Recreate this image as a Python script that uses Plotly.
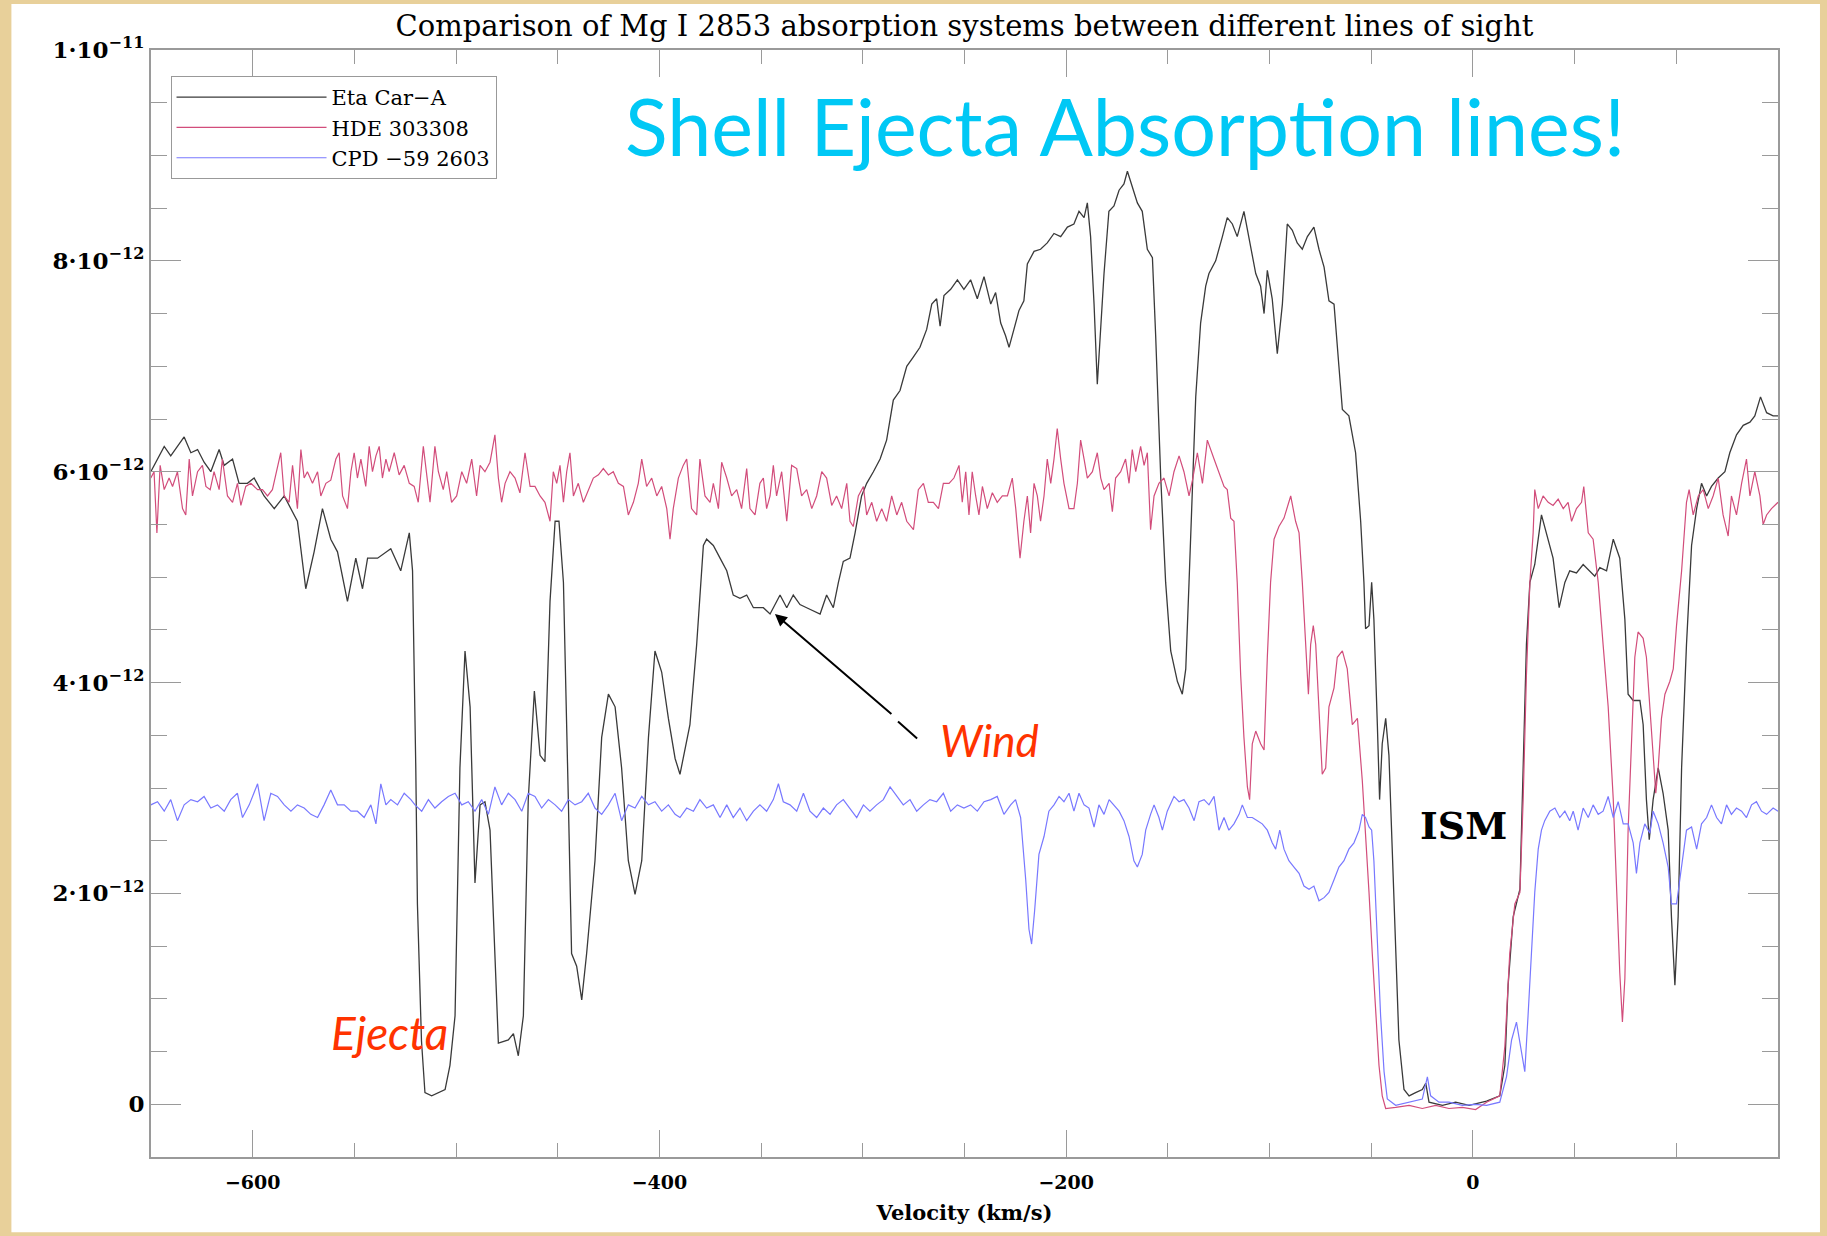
import plotly.graph_objects as go

# ---------------- data (velocity km/s, flux in units of 1e-12) ----------------
FLUX_UNIT = 1e-12

velocity_ticks = [-600, -400, -200, 0]
velocity_tick_labels = ["\u2212600", "\u2212400", "\u2212200", "0"]
flux_ticks = [0, 2e-12, 4e-12, 6e-12, 8e-12, 1e-11]
flux_tick_labels = ["0", "2\u00b710<sup>\u221212</sup>", "4\u00b710<sup>\u221212</sup>",
                    "6\u00b710<sup>\u221212</sup>", "8\u00b710<sup>\u221212</sup>",
                    "1\u00b710<sup>\u221211</sup>"]
series_names = ["Eta Car\u2212A", "HDE 303308", "CPD \u221259 2603"]

eta_car_a = [
    (-650.1, 6.00), (-643.5, 6.24), (-640.3, 6.15), (-633.7, 6.33), (-630.4, 6.18), (-627.1, 6.21),
    (-623.9, 6.09), (-620.6, 6.00), (-616.5, 6.21), (-614.0, 6.06), (-609.9, 6.12), (-606.7, 5.89),
    (-602.6, 5.89), (-599.3, 5.94), (-594.4, 5.77), (-589.4, 5.65), (-584.5, 5.77), (-581.2, 5.65),
    (-578.0, 5.53), (-573.9, 4.89), (-569.8, 5.24), (-565.7, 5.65), (-561.6, 5.36), (-558.3, 5.24),
    (-553.4, 4.77), (-549.3, 5.18), (-546.0, 4.89), (-543.5, 5.18), (-538.6, 5.18), (-532.1, 5.27),
    (-527.2, 5.06), (-523.0, 5.42), (-521.4, 5.06), (-519.8, 3.19), (-519.0, 1.90), (-517.0, 0.60),
    (-515.3, 0.11), (-512.0, 0.08), (-508.7, 0.11), (-505.4, 0.14), (-503.0, 0.37), (-500.5, 0.84),
    (-498.1, 3.19), (-495.6, 4.30), (-493.1, 3.77), (-490.7, 2.10), (-488.2, 2.84), (-485.8, 2.87),
    (-483.3, 2.60), (-480.9, 1.43), (-479.2, 0.58), (-474.3, 0.61), (-471.8, 0.67), (-469.4, 0.46),
    (-466.9, 0.84), (-464.5, 2.89), (-461.5, 3.92), (-458.7, 3.31), (-456.3, 3.25), (-453.8, 4.77),
    (-451.3, 5.53), (-449.4, 5.53), (-447.2, 4.95), (-444.8, 2.89), (-443.2, 1.43), (-440.7, 1.31),
    (-438.2, 0.99), (-435.8, 1.43), (-431.7, 2.31), (-428.4, 3.48), (-425.1, 3.89), (-421.8, 3.77),
    (-418.6, 3.19), (-415.3, 2.31), (-412.0, 1.99), (-408.7, 2.31), (-405.4, 3.48), (-402.2, 4.30),
    (-398.9, 4.10), (-395.6, 3.66), (-392.3, 3.28), (-389.9, 3.13), (-385.0, 3.60), (-381.7, 4.36),
    (-378.4, 5.30), (-376.8, 5.36), (-373.5, 5.30), (-370.2, 5.18), (-366.9, 5.06), (-363.7, 4.83),
    (-360.4, 4.80), (-357.1, 4.83), (-353.8, 4.71), (-348.9, 4.71), (-345.6, 4.65), (-340.7, 4.83),
    (-337.4, 4.71), (-334.2, 4.83), (-330.9, 4.74), (-327.6, 4.71), (-324.3, 4.68), (-321.0, 4.65),
    (-317.8, 4.83), (-314.5, 4.71), (-312.0, 4.95), (-309.6, 5.15), (-306.3, 5.18), (-303.8, 5.42),
    (-300.6, 5.77), (-298.1, 5.89), (-294.8, 6.00), (-291.5, 6.12), (-288.3, 6.30), (-285.0, 6.68),
    (-281.7, 6.77), (-278.4, 7.00), (-275.1, 7.09), (-271.9, 7.18), (-268.6, 7.35), (-266.1, 7.59),
    (-263.7, 7.64), (-262.0, 7.38), (-260.1, 7.67), (-256.8, 7.73), (-253.5, 7.82), (-250.3, 7.73),
    (-247.0, 7.82), (-243.7, 7.64), (-240.4, 7.85), (-237.1, 7.59), (-234.7, 7.70), (-232.2, 7.41),
    (-229.8, 7.29), (-228.1, 7.18), (-225.7, 7.35), (-223.2, 7.53), (-220.8, 7.62), (-219.1, 7.97),
    (-215.8, 8.09), (-212.6, 8.11), (-209.3, 8.17), (-206.0, 8.26), (-202.7, 8.23), (-199.4, 8.32),
    (-196.2, 8.35), (-193.7, 8.47), (-191.2, 8.41), (-189.6, 8.55), (-188.0, 8.23), (-186.3, 7.59),
    (-184.7, 6.83), (-183.0, 7.41), (-181.4, 7.88), (-179.0, 8.47), (-176.5, 8.52), (-174.0, 8.67),
    (-171.6, 8.73), (-169.9, 8.85), (-167.5, 8.70), (-165.0, 8.55), (-162.6, 8.47), (-160.1, 8.11),
    (-157.6, 8.03), (-156.0, 7.29), (-153.5, 5.94), (-151.1, 4.95), (-148.6, 4.30), (-145.3, 4.01),
    (-142.9, 3.89), (-141.2, 4.13), (-139.6, 4.95), (-137.9, 5.94), (-136.3, 6.71), (-133.9, 7.41),
    (-131.4, 7.76), (-129.8, 7.88), (-126.5, 8.00), (-123.2, 8.23), (-120.8, 8.41), (-118.3, 8.35),
    (-115.9, 8.23), (-112.6, 8.47), (-110.1, 8.23), (-106.8, 7.88), (-104.4, 7.76), (-102.7, 7.50),
    (-101.1, 7.91), (-98.7, 7.64), (-96.2, 7.12), (-93.7, 7.59), (-91.3, 8.35), (-88.8, 8.29),
    (-86.4, 8.17), (-83.9, 8.11), (-81.4, 8.23), (-78.2, 8.32), (-75.7, 8.11), (-73.2, 7.94),
    (-70.8, 7.62), (-68.3, 7.59), (-65.9, 7.00), (-64.2, 6.59), (-61.0, 6.53), (-57.7, 6.18),
    (-55.2, 5.53), (-53.6, 4.95), (-52.8, 4.51), (-51.1, 4.54), (-49.8, 4.95), (-48.7, 4.60),
    (-47.0, 3.60), (-45.9, 2.89), (-44.6, 3.42), (-42.9, 3.66), (-41.3, 3.31), (-39.6, 2.31),
    (-38.0, 1.43), (-36.4, 0.61), (-33.9, 0.14), (-31.4, 0.08), (-28.2, 0.11), (-24.9, 0.14),
    (-23.2, 0.20), (-21.6, 0.02), (-15.0, -0.01), (-8.5, 0.02), (-1.9, -0.01), (6.7, 0.03),
    (13.2, 0.08), (15.7, 0.37), (17.3, 1.13), (19.8, 1.78), (23.1, 2.04), (24.7, 3.19),
    (26.3, 4.36), (28.0, 4.95), (30.4, 5.12), (33.7, 5.59), (37.0, 5.36), (39.4, 5.18),
    (42.4, 4.71), (45.2, 4.95), (47.6, 5.06), (50.9, 5.04), (54.2, 5.12), (57.5, 5.06),
    (59.9, 5.01), (62.4, 5.09), (65.7, 5.06), (69.0, 5.36), (72.2, 5.18), (74.7, 4.60),
    (76.3, 3.89), (78.8, 3.83), (82.1, 3.83), (83.7, 3.60), (85.3, 2.89), (86.7, 2.51),
    (88.6, 2.89), (91.1, 3.19), (93.5, 2.95), (96.0, 2.60), (97.6, 1.78), (99.3, 1.13),
    (100.9, 1.78), (102.6, 3.19), (105.0, 4.36), (107.5, 5.30), (110.0, 5.65), (112.4, 5.89),
    (114.9, 5.77), (117.3, 5.86), (120.6, 5.94), (123.9, 6.00), (126.3, 6.18), (129.6, 6.35),
    (132.9, 6.44), (136.2, 6.47), (138.6, 6.53), (141.4, 6.71), (144.4, 6.56), (147.6, 6.53),
    (150.0, 6.53),
]

hde_303308 = [
    (-650.1, 5.94), (-648.5, 6.00), (-647.1, 5.42), (-645.5, 6.06), (-643.5, 5.83), (-641.1, 5.94),
    (-639.4, 5.86), (-637.0, 6.00), (-634.5, 5.65), (-632.9, 5.59), (-631.2, 6.12), (-629.6, 5.77),
    (-627.1, 6.00), (-624.7, 6.06), (-623.0, 5.86), (-620.9, 5.83), (-619.0, 6.00), (-616.5, 5.83),
    (-614.9, 6.12), (-612.4, 5.77), (-609.9, 5.71), (-607.5, 5.89), (-605.8, 5.68), (-603.4, 5.86),
    (-600.9, 5.89), (-597.6, 5.83), (-595.2, 5.83), (-592.7, 5.77), (-590.3, 5.83), (-587.8, 6.06),
    (-586.2, 6.18), (-584.5, 5.77), (-582.1, 5.71), (-580.4, 6.06), (-578.0, 5.65), (-576.3, 6.21),
    (-574.7, 5.94), (-573.1, 6.00), (-570.6, 5.89), (-568.1, 6.00), (-566.5, 5.77), (-564.0, 5.89),
    (-561.6, 5.92), (-559.1, 6.12), (-557.5, 6.18), (-555.8, 5.77), (-553.4, 5.65), (-551.7, 6.00),
    (-550.1, 6.18), (-548.5, 5.94), (-546.8, 6.12), (-544.4, 5.86), (-542.7, 6.24), (-541.1, 6.00),
    (-539.4, 6.15), (-537.8, 6.24), (-536.2, 5.94), (-534.5, 6.12), (-532.9, 6.00), (-530.4, 6.18),
    (-528.0, 5.97), (-525.5, 6.06), (-523.0, 5.89), (-520.6, 5.86), (-518.6, 5.71), (-516.1, 6.24),
    (-514.5, 6.00), (-512.8, 5.71), (-510.4, 6.24), (-508.7, 6.00), (-506.3, 5.83), (-504.6, 6.00),
    (-502.2, 5.71), (-499.7, 5.77), (-497.2, 6.00), (-494.8, 5.89), (-492.3, 6.12), (-489.9, 5.77),
    (-488.2, 6.06), (-485.8, 6.00), (-483.3, 6.09), (-480.9, 6.35), (-479.2, 5.94), (-477.6, 5.71),
    (-475.9, 5.89), (-473.5, 6.00), (-471.0, 5.94), (-468.6, 5.80), (-466.1, 6.18), (-463.6, 5.86),
    (-461.2, 5.86), (-458.7, 5.77), (-456.3, 5.71), (-453.8, 5.53), (-452.2, 6.00), (-450.5, 5.89),
    (-448.9, 6.06), (-447.2, 5.71), (-445.6, 6.00), (-444.0, 6.18), (-442.3, 5.77), (-439.9, 5.89),
    (-437.4, 5.71), (-435.0, 5.83), (-432.5, 5.94), (-430.0, 5.97), (-427.6, 6.03), (-425.1, 5.97),
    (-422.7, 6.00), (-420.2, 5.89), (-417.7, 5.86), (-415.3, 5.59), (-412.8, 5.71), (-410.4, 5.89),
    (-408.7, 6.12), (-406.3, 5.86), (-403.8, 5.94), (-401.3, 5.77), (-398.9, 5.86), (-396.4, 5.65),
    (-394.8, 5.36), (-393.2, 5.65), (-390.7, 5.94), (-388.3, 6.06), (-386.6, 6.12), (-384.2, 5.65),
    (-381.7, 5.59), (-380.1, 6.12), (-377.6, 5.77), (-375.1, 5.71), (-373.5, 5.89), (-371.0, 5.65),
    (-369.4, 6.09), (-366.9, 5.94), (-364.5, 5.77), (-362.0, 5.83), (-359.6, 5.65), (-357.1, 6.03),
    (-355.5, 5.65), (-353.0, 5.59), (-350.6, 5.89), (-348.9, 5.94), (-347.3, 5.65), (-345.6, 5.77),
    (-344.0, 6.06), (-342.4, 5.77), (-339.9, 6.00), (-337.4, 5.53), (-335.0, 6.06), (-332.5, 6.03),
    (-330.1, 5.77), (-327.6, 5.83), (-325.1, 5.65), (-322.7, 5.77), (-320.2, 6.00), (-317.8, 5.94),
    (-315.3, 5.68), (-312.9, 5.77), (-310.4, 5.65), (-307.9, 5.89), (-306.3, 5.53), (-304.7, 5.48),
    (-302.2, 5.77), (-299.7, 5.86), (-298.1, 5.59), (-295.6, 5.71), (-293.2, 5.53), (-290.7, 5.65),
    (-288.3, 5.53), (-285.8, 5.77), (-283.3, 5.59), (-280.9, 5.71), (-278.4, 5.53), (-275.1, 5.45),
    (-272.7, 5.83), (-270.2, 5.89), (-267.8, 5.71), (-265.3, 5.71), (-262.8, 5.65), (-260.4, 5.89),
    (-257.6, 5.89), (-255.2, 5.94), (-252.7, 6.06), (-251.1, 5.71), (-249.4, 6.00), (-247.8, 5.59),
    (-246.2, 6.00), (-244.5, 5.77), (-242.9, 5.59), (-241.2, 5.86), (-238.8, 5.65), (-236.3, 5.80),
    (-233.9, 5.71), (-231.4, 5.77), (-228.9, 5.77), (-226.5, 5.94), (-224.8, 5.65), (-222.7, 5.18),
    (-220.8, 5.53), (-219.1, 5.77), (-217.5, 5.42), (-215.8, 5.89), (-214.2, 5.77), (-212.6, 5.53),
    (-210.9, 5.77), (-209.3, 6.12), (-207.6, 5.89), (-206.0, 6.12), (-204.4, 6.41), (-202.7, 6.12),
    (-201.1, 5.89), (-198.6, 5.65), (-196.2, 5.65), (-194.5, 5.89), (-192.9, 6.30), (-191.2, 6.12),
    (-189.6, 5.94), (-187.1, 6.00), (-184.7, 6.18), (-183.0, 5.94), (-181.4, 5.83), (-178.9, 5.89),
    (-177.3, 5.62), (-175.7, 5.94), (-173.2, 6.00), (-170.8, 6.12), (-169.1, 5.89), (-167.5, 6.21),
    (-165.8, 6.00), (-163.4, 6.24), (-161.7, 6.06), (-160.1, 6.18), (-158.5, 5.45), (-156.8, 5.77),
    (-154.4, 5.89), (-151.9, 5.94), (-149.4, 5.77), (-147.0, 6.00), (-144.5, 6.15), (-142.1, 6.00),
    (-139.6, 5.77), (-137.9, 5.92), (-135.5, 6.18), (-133.0, 5.89), (-130.6, 6.30), (-127.3, 6.12),
    (-124.9, 6.00), (-122.4, 5.86), (-120.8, 5.83), (-119.1, 5.56), (-117.5, 5.53), (-115.9, 4.95),
    (-114.2, 4.07), (-112.6, 3.48), (-110.9, 3.01), (-109.8, 2.89), (-108.5, 3.42), (-106.8, 3.54),
    (-104.4, 3.42), (-102.7, 3.36), (-101.1, 4.24), (-99.5, 4.95), (-97.8, 5.36), (-95.4, 5.48),
    (-92.9, 5.56), (-89.6, 5.77), (-87.2, 5.53), (-85.5, 5.42), (-83.9, 4.95), (-82.3, 4.36),
    (-80.9, 3.89), (-79.8, 4.36), (-78.5, 4.54), (-77.3, 4.36), (-75.7, 3.77), (-74.1, 3.13),
    (-72.4, 3.19), (-70.8, 3.77), (-68.3, 3.95), (-66.7, 4.24), (-64.2, 4.30), (-61.8, 4.13),
    (-59.3, 3.60), (-56.8, 3.66), (-54.4, 3.07), (-52.8, 2.60), (-51.1, 2.01), (-49.5, 1.43),
    (-47.8, 0.84), (-46.2, 0.37), (-44.6, 0.08), (-42.9, -0.04), (-38.0, -0.03), (-31.4, -0.01),
    (-24.9, -0.04), (-18.3, -0.01), (-11.8, -0.04), (-5.2, -0.03), (1.3, -0.05), (6.7, 0.02),
    (13.2, 0.08), (15.7, 0.55), (18.1, 1.43), (20.6, 1.90), (23.1, 2.01), (24.7, 2.89),
    (26.3, 4.07), (28.0, 4.95), (29.6, 5.42), (30.4, 5.83), (32.1, 5.65), (34.5, 5.77),
    (37.0, 5.71), (39.4, 5.68), (41.9, 5.74), (44.4, 5.65), (46.8, 5.71), (48.5, 5.53),
    (50.9, 5.65), (53.4, 5.71), (54.5, 5.86), (56.7, 5.42), (59.1, 5.36), (61.6, 4.95),
    (64.0, 4.36), (66.5, 3.77), (69.0, 2.89), (70.6, 2.01), (72.2, 1.25), (73.5, 0.78),
    (74.7, 1.19), (76.3, 2.60), (78.0, 3.48), (79.6, 4.24), (81.2, 4.48), (83.7, 4.42),
    (85.3, 4.24), (87.0, 3.77), (88.6, 3.25), (89.9, 2.95), (91.1, 3.19), (92.7, 3.66),
    (94.4, 3.89), (96.8, 4.01), (98.5, 4.13), (100.1, 4.54), (102.6, 5.06), (105.0, 5.71),
    (106.3, 5.83), (108.3, 5.59), (110.8, 5.77), (113.2, 5.83), (115.7, 5.65), (118.1, 5.77),
    (120.6, 5.94), (123.0, 5.59), (125.5, 5.39), (127.1, 5.77), (129.6, 5.59), (132.1, 5.89),
    (134.5, 6.12), (136.2, 5.77), (138.6, 6.00), (141.1, 5.77), (142.7, 5.50), (144.4, 5.59),
    (146.8, 5.65), (150.0, 5.71),
]

cpd_59_2603 = [
    (-650.1, 2.84), (-646.8, 2.87), (-643.5, 2.78), (-640.3, 2.89), (-637.0, 2.69), (-633.7, 2.84),
    (-630.4, 2.89), (-627.1, 2.87), (-623.9, 2.92), (-620.6, 2.81), (-617.3, 2.84), (-614.0, 2.78),
    (-610.8, 2.89), (-607.5, 2.95), (-605.0, 2.72), (-601.7, 2.84), (-597.6, 3.04), (-594.4, 2.69),
    (-591.1, 2.95), (-587.8, 2.92), (-584.5, 2.84), (-581.2, 2.78), (-578.0, 2.84), (-574.7, 2.81),
    (-571.4, 2.75), (-568.1, 2.72), (-564.9, 2.84), (-561.6, 2.98), (-558.3, 2.84), (-555.0, 2.84),
    (-551.7, 2.78), (-548.5, 2.78), (-545.2, 2.72), (-541.9, 2.84), (-539.4, 2.66), (-537.0, 3.04),
    (-534.5, 2.84), (-532.1, 2.89), (-528.8, 2.84), (-525.5, 2.95), (-522.2, 2.89), (-520.2, 2.84),
    (-516.9, 2.78), (-513.6, 2.89), (-510.4, 2.81), (-507.1, 2.87), (-503.8, 2.92), (-500.5, 2.95),
    (-497.2, 2.84), (-494.0, 2.87), (-490.7, 2.78), (-487.4, 2.89), (-484.1, 2.75), (-480.9, 3.01),
    (-477.6, 2.84), (-474.3, 2.95), (-471.0, 2.89), (-467.7, 2.78), (-464.5, 2.95), (-461.2, 2.92),
    (-457.9, 2.81), (-454.6, 2.89), (-451.3, 2.84), (-448.1, 2.78), (-444.8, 2.89), (-441.5, 2.84),
    (-438.2, 2.87), (-435.0, 2.95), (-431.7, 2.81), (-428.4, 2.75), (-425.1, 2.84), (-421.8, 2.95),
    (-418.6, 2.69), (-415.3, 2.84), (-412.0, 2.81), (-408.7, 2.92), (-405.4, 2.84), (-402.2, 2.87),
    (-398.9, 2.78), (-395.6, 2.84), (-392.3, 2.75), (-389.9, 2.72), (-386.6, 2.81), (-383.3, 2.78),
    (-380.1, 2.89), (-376.8, 2.81), (-373.5, 2.84), (-370.2, 2.72), (-366.9, 2.84), (-363.7, 2.72),
    (-360.4, 2.81), (-357.1, 2.69), (-353.8, 2.78), (-350.6, 2.84), (-347.3, 2.78), (-344.0, 2.89),
    (-341.5, 3.04), (-339.1, 2.87), (-335.8, 2.84), (-332.5, 2.78), (-329.2, 2.95), (-326.0, 2.78),
    (-322.7, 2.72), (-319.4, 2.81), (-316.1, 2.75), (-312.9, 2.84), (-309.6, 2.89), (-306.3, 2.81),
    (-303.0, 2.72), (-299.7, 2.84), (-296.5, 2.78), (-293.2, 2.84), (-289.9, 2.89), (-286.6, 3.01),
    (-283.3, 2.92), (-280.1, 2.84), (-276.8, 2.89), (-273.5, 2.78), (-270.2, 2.84), (-267.0, 2.89),
    (-263.7, 2.87), (-260.4, 2.95), (-256.8, 2.78), (-253.5, 2.84), (-250.3, 2.81), (-247.0, 2.84),
    (-243.7, 2.78), (-240.4, 2.87), (-237.1, 2.89), (-233.9, 2.92), (-230.6, 2.75), (-227.3, 2.84),
    (-224.9, 2.89), (-222.4, 2.72), (-219.9, 2.13), (-218.3, 1.66), (-217.0, 1.52), (-215.5, 1.84),
    (-213.4, 2.37), (-210.9, 2.54), (-208.5, 2.78), (-206.0, 2.84), (-203.5, 2.92), (-201.1, 2.87),
    (-198.6, 2.95), (-196.2, 2.78), (-193.7, 2.95), (-191.2, 2.84), (-188.8, 2.81), (-186.3, 2.63),
    (-183.9, 2.84), (-181.4, 2.75), (-178.9, 2.89), (-176.5, 2.84), (-174.0, 2.78), (-171.6, 2.69),
    (-169.1, 2.54), (-166.7, 2.31), (-165.0, 2.25), (-162.6, 2.37), (-160.9, 2.60), (-158.5, 2.75),
    (-156.8, 2.84), (-154.4, 2.72), (-152.7, 2.60), (-150.3, 2.78), (-147.0, 2.92), (-144.5, 2.87),
    (-142.1, 2.89), (-139.6, 2.81), (-137.1, 2.69), (-134.7, 2.87), (-132.2, 2.89), (-129.8, 2.84),
    (-127.3, 2.92), (-124.9, 2.60), (-122.4, 2.72), (-120.0, 2.60), (-117.5, 2.66), (-115.0, 2.75),
    (-113.4, 2.84), (-110.9, 2.72), (-108.5, 2.72), (-106.0, 2.69), (-103.6, 2.66), (-101.1, 2.60),
    (-98.7, 2.48), (-97.0, 2.42), (-95.0, 2.60), (-92.9, 2.42), (-90.5, 2.31), (-88.0, 2.25),
    (-85.5, 2.19), (-83.1, 2.07), (-80.6, 2.04), (-78.2, 2.07), (-75.7, 1.93), (-73.2, 1.96),
    (-70.8, 2.01), (-68.3, 2.13), (-65.9, 2.25), (-63.4, 2.31), (-61.0, 2.42), (-58.5, 2.48),
    (-56.0, 2.60), (-54.4, 2.75), (-52.8, 2.72), (-51.1, 2.63), (-49.8, 2.60), (-48.7, 2.31),
    (-47.0, 1.55), (-45.4, 0.84), (-43.7, 0.31), (-42.1, 0.05), (-38.0, -0.01), (-31.4, 0.02),
    (-24.9, 0.05), (-22.4, 0.26), (-20.8, 0.08), (-16.7, 0.02), (-11.8, 0.02), (-5.2, -0.01),
    (1.3, 0.00), (6.7, -0.01), (13.2, 0.02), (16.5, 0.26), (19.0, 0.61), (21.4, 0.78),
    (23.9, 0.49), (25.5, 0.31), (27.1, 0.84), (28.8, 1.43), (30.4, 2.01), (32.1, 2.42),
    (33.7, 2.60), (35.3, 2.69), (37.8, 2.78), (40.3, 2.81), (42.7, 2.72), (45.2, 2.78),
    (47.6, 2.69), (49.3, 2.78), (51.7, 2.60), (54.2, 2.81), (56.7, 2.72), (59.1, 2.84),
    (61.6, 2.75), (64.0, 2.78), (66.5, 2.92), (69.0, 2.72), (71.4, 2.87), (73.9, 2.66),
    (76.3, 2.66), (78.8, 2.48), (80.4, 2.19), (82.1, 2.48), (84.5, 2.66), (87.0, 2.57),
    (88.6, 2.78), (91.1, 2.66), (93.5, 2.48), (96.0, 2.25), (97.6, 1.90), (100.1, 1.90),
    (101.7, 2.13), (103.4, 2.42), (105.0, 2.60), (107.5, 2.63), (110.0, 2.42), (112.4, 2.66),
    (114.9, 2.72), (117.3, 2.84), (119.8, 2.72), (122.2, 2.66), (124.7, 2.84), (127.1, 2.75),
    (129.6, 2.81), (132.1, 2.78), (134.5, 2.72), (137.0, 2.84), (139.4, 2.87), (141.9, 2.78),
    (144.4, 2.75), (147.6, 2.81), (150.0, 2.78),
]

# ---------------- figure ----------------
series = [eta_car_a, hde_303308, cpd_59_2603]
colors = ["#3a3a3a", "#d24d7b", "#7878ff"]
widths = [1.3, 1.2, 1.2]

fig = go.Figure()
for name, data, col, w in zip(series_names, series, colors, widths):
    v = [p[0] for p in data]
    f = [p[1] * FLUX_UNIT for p in data]
    fig.add_trace(go.Scatter(x=v, y=f, mode="lines", name=name,
                             line=dict(color=col, width=w)))

axis_grey = "#9a9a9a"

fig.update_xaxes(
    range=[-650, 150], tickmode="array", tickvals=velocity_ticks, ticktext=velocity_tick_labels,
    ticks="inside", ticklen=27, tickwidth=1, tickcolor=axis_grey,
    minor=dict(dtick=50, tick0=0, ticks="inside", ticklen=14, tickwidth=1, tickcolor=axis_grey),
    showline=True, linecolor=axis_grey, linewidth=2, mirror="allticks",
    showgrid=False, zeroline=False, ticklabelstandoff=7,
    tickfont=dict(family="DejaVu Serif", size=19, color="black", weight="bold"),
    title=dict(text="Velocity (km/s)", font=dict(family="DejaVu Serif", size=21, color="black", weight="bold"),
               standoff=14),
)
fig.update_yaxes(
    range=[-0.5e-12, 1.0e-11], tickmode="array", tickvals=flux_ticks, ticktext=flux_tick_labels,
    ticks="inside", ticklen=30, tickwidth=1, tickcolor=axis_grey,
    minor=dict(dtick=0.5e-12, tick0=0, ticks="inside", ticklen=16, tickwidth=1, tickcolor=axis_grey),
    showline=True, linecolor=axis_grey, linewidth=2, mirror="allticks",
    showgrid=False, zeroline=False,
    tickfont=dict(family="DejaVu Serif", size=23, color="black", weight="bold"),
)

fig.update_layout(
    width=1827, height=1236,
    margin=dict(l=151, r=49, t=50, b=79),
    paper_bgcolor="#e8d09a",
    plot_bgcolor="white",
    title=dict(text="Comparison of Mg I 2853 absorption systems between different lines of sight",
               x=0.5, xref="paper", xanchor="center", y=1 - 26 / 1236, yref="container", yanchor="middle",
               font=dict(family="DejaVu Serif", size=29, color="black")),
    legend=dict(x=0.012, y=0.9765, xanchor="left", yanchor="top", bgcolor="white",
                bordercolor="#999999", borderwidth=1, itemwidth=150,
                font=dict(family="DejaVu Serif", size=21, color="black")),
    shapes=[
        dict(type="rect", xref="paper", yref="paper", x0=-0.0858, x1=1.0258, y0=-0.0679, y1=1.0416,
             fillcolor="white", line=dict(width=0), layer="below"),
        dict(type="line", xref="x", yref="y", x0=-282.7, y0=3.63e-12, x1=-273.3, y1=3.47e-12,
             line=dict(color="black", width=2)),
    ],
    annotations=[
        dict(text="Shell Ejecta Absorption lines!", xref="paper", yref="paper", x=0.2899, y=0.9317,
             xanchor="left", yanchor="middle", showarrow=False,
             font=dict(family="Lato", size=79, color="#00c8f5")),
        dict(text="<i>Wind</i>", xref="x", yref="y", x=-263.0, y=3.46e-12, xanchor="left", yanchor="middle",
             showarrow=False, font=dict(family="Lato", size=44, color="#ff3300")),
        dict(text="<i>Ejecta</i>", xref="x", yref="y", x=-562.4, y=0.68e-12, xanchor="left", yanchor="middle",
             showarrow=False, font=dict(family="Lato", size=46, color="#ff3300")),
        dict(text="<b>ISM</b>", xref="x", yref="y", x=-27.0, y=2.64e-12, xanchor="left", yanchor="middle",
             showarrow=False, font=dict(family="DejaVu Serif", size=38, color="black")),
        dict(text="", xref="x", yref="y", x=-343.2, y=4.65e-12, axref="x", ayref="y",
             ax=-285.2, ay=3.69e-12, showarrow=True, arrowhead=2, arrowsize=1.2, arrowwidth=2,
             arrowcolor="black", standoff=0, startstandoff=0),
    ],
)

fig.write_html("out.html")
